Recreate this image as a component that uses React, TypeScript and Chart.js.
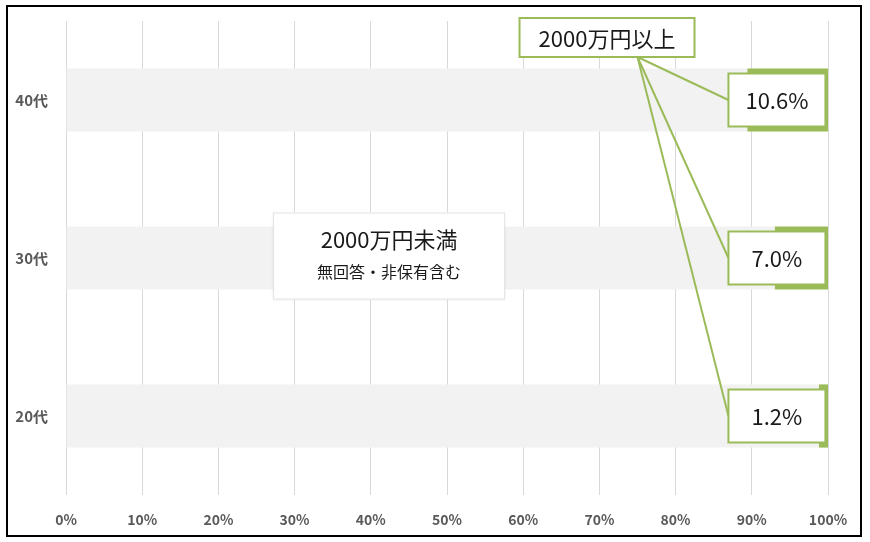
import { useEffect, useRef } from 'react';
import { Chart, registerables } from 'chart.js';

Chart.register(...registerables);

const categories = ['40代', '30代', '20代'];
const underValues = [89.4, 93.0, 98.8];
const overValues = [10.6, 7.0, 1.2];
const overLabels = ['10.6%', '7.0%', '1.2%'];
const seriesNames = ['2000万円未満', '2000万円以上'];
const underNote = '無回答・非保有含む';

const FONT = '"Noto Sans CJK JP", "Noto Sans", sans-serif';
const GREEN = '#9BBB59';
const GRAY_BAR = '#F2F2F2';
const AXIS_TEXT = '#595959';

const overlayPlugin = {
  id: 'overlay',
  afterDraw(chart: any) {
    const ctx: CanvasRenderingContext2D = chart.ctx;
    const xs = chart.scales.x;
    const ys = chart.scales.y;
    const meta = chart.getDatasetMeta(1);
    ctx.save();

    // outer frame
    ctx.strokeStyle = '#000';
    ctx.lineWidth = 2;
    ctx.strokeRect(7, 6, 854, 530);

    // center box (2000万円未満)
    const cx = xs.getPixelForValue(42.4);
    const cy = ys.getPixelForValue(1) - 2;
    const cw = 232, ch = 87;
    ctx.save();
    ctx.shadowColor = 'rgba(0,0,0,0.12)';
    ctx.shadowBlur = 3;
    ctx.fillStyle = '#fff';
    ctx.fillRect(cx - cw / 2, cy - ch / 2, cw, ch);
    ctx.restore();
    ctx.strokeStyle = '#E3E3E3';
    ctx.lineWidth = 1;
    ctx.strokeRect(cx - cw / 2 + 0.5, cy - ch / 2 + 0.5, cw - 1, ch - 1);
    ctx.fillStyle = '#1a1a1a';
    ctx.textAlign = 'center';
    ctx.textBaseline = 'middle';
    ctx.font = `22px ${FONT}`;
    ctx.fillText(seriesNames[0], cx, cy - 16);
    ctx.font = `16px ${FONT}`;
    ctx.fillText(underNote, cx, cy + 16);

    // header box (2000万円以上)
    const hubX = xs.getPixelForValue(75);
    const headCx = xs.getPixelForValue(71);
    const headW = 175, headH = 39;
    const headTop = chart.chartArea.top - 3;
    const hubY = headTop + headH;

    // leader lines
    const boxCx = xs.getPixelForValue(93.3);
    const boxW = 97, boxH = 53;
    ctx.strokeStyle = GREEN;
    ctx.lineWidth = 2;
    meta.data.forEach((bar: any) => {
      ctx.beginPath();
      ctx.moveTo(hubX, hubY);
      ctx.lineTo(boxCx - boxW / 2, bar.y);
      ctx.stroke();
    });

    // header box
    ctx.fillStyle = '#fff';
    ctx.fillRect(headCx - headW / 2, headTop, headW, headH);
    ctx.strokeRect(headCx - headW / 2, headTop, headW, headH);
    ctx.fillStyle = '#1a1a1a';
    ctx.font = `22px ${FONT}`;
    ctx.fillText(seriesNames[1], headCx, headTop + headH / 2 + 1);

    // value label boxes
    meta.data.forEach((bar: any, i: number) => {
      const bx = boxCx - boxW / 2;
      const by = bar.y - boxH / 2;
      ctx.fillStyle = '#fff';
      ctx.fillRect(bx, by, boxW, boxH);
      ctx.strokeStyle = GREEN;
      ctx.lineWidth = 2;
      ctx.strokeRect(bx, by, boxW, boxH);
      ctx.fillStyle = '#1a1a1a';
      ctx.font = `22px ${FONT}`;
      ctx.fillText(overLabels[i], boxCx, bar.y + 1);
    });

    ctx.restore();
  },
};

export default function App() {
  const ref = useRef<HTMLCanvasElement | null>(null);

  useEffect(() => {
    document.body.style.margin = '0';
    const canvas = ref.current;
    if (!canvas) return;
    const chart = new Chart(canvas, {
      type: 'bar',
      data: {
        labels: categories,
        datasets: [
          {
            label: seriesNames[0],
            data: underValues,
            backgroundColor: GRAY_BAR,
            borderWidth: 0,
          },
          {
            label: seriesNames[1],
            data: overValues,
            backgroundColor: GREEN,
            borderWidth: 0,
          },
        ],
      },
      options: {
        indexAxis: 'y',
        animation: false,
        responsive: false,
        devicePixelRatio: 1,
        datasets: { bar: { categoryPercentage: 1, barPercentage: 0.4 } },
        layout: { padding: { left: 8, right: 42, top: 21, bottom: 8 } },
        plugins: {
          legend: { display: false },
          tooltip: { enabled: false },
        },
        scales: {
          x: {
            stacked: true,
            min: 0,
            max: 100,
            ticks: {
              stepSize: 10,
              padding: 16,
              color: AXIS_TEXT,
              font: { family: FONT, size: 14, weight: 'bold' },
              callback: (v: any) => `${v}%`,
            },
            grid: { color: '#D9D9D9', lineWidth: 1, drawTicks: false },
            border: { display: false },
            afterFit: (s: any) => {
              s.height = 39;
              s.paddingLeft = 0;
              s.paddingRight = 0;
            },
          },
          y: {
            stacked: true,
            ticks: {
              padding: 18,
              color: AXIS_TEXT,
              font: { family: FONT, size: 15, weight: 'bold' },
            },
            grid: { display: false, drawTicks: false },
            border: { display: false },
            afterFit: (s: any) => {
              s.width = 58;
              s.paddingTop = 0;
              s.paddingBottom = 0;
            },
          },
        },
      },
      plugins: [overlayPlugin],
    });
    return () => chart.destroy();
  }, []);

  return (
    <div style={{ width: 870, height: 542, background: '#fff' }}>
      <canvas ref={ref} width={870} height={542} style={{ display: 'block' }} />
    </div>
  );
}
